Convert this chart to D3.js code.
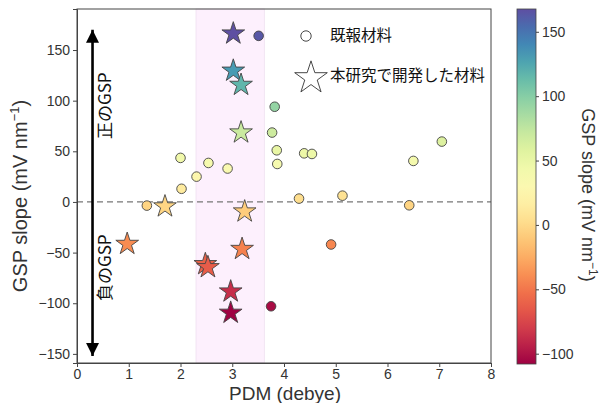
<!DOCTYPE html>
<html>
<head>
<meta charset="utf-8">
<script src="https://cdn.jsdelivr.net/npm/d3@7"></script>
<style>
  body { margin: 0; background: #fff; }
  text { font-family: "Liberation Sans", Arial, sans-serif; fill: #333; }
  .jp { font-family: "Noto Sans CJK JP", sans-serif; fill: #111; }
</style>
</head>
<body>
<svg id="chart" width="602" height="403"></svg>
<script>
// reported materials (circles): [PDM, GSP slope]
const reportedPdm   = [3.51, 3.82, 3.77, 3.86, 3.87, 2.0, 2.54, 2.91, 2.31, 2.02, 1.35, 3.75, 4.39, 4.54, 6.5, 7.05, 4.29, 5.13, 6.42, 4.91];
const reportedSlope = [164, 94, 68.5, 51, 37.5, 43.5, 38.5, 33, 25, 13, -3.6, -103, 48, 47.4, 40.5, 59.6, 3.3, 6.2, -3.3, -42];

// materials developed in this study (stars)
const studyPdm   = [3.02, 3.02, 3.17, 3.17, 1.70, 3.24, 0.97, 3.19, 2.48, 2.53, 2.97, 2.97];
const studySlope = [167.7, 131, 117, 70, -3, -8, -40, -45, -60, -63, -87, -108];

const xTicks = [0, 1, 2, 3, 4, 5, 6, 7, 8];
const yTicks = [-150, -100, -50, 0, 50, 100, 150];
const cbTicks = [-100, -50, 0, 50, 100, 150];
const band = [2.3, 3.62];

const svg = d3.select("#chart");
const margin = { top: 9, left: 77, right: 491, bottom: 363 };

const x = d3.scaleLinear().domain([0, 8]).range([margin.left, margin.right]);
const y = d3.scaleLinear().domain([-159, 190.5]).range([margin.bottom, margin.top]);

const allSlope = reportedSlope.concat(studySlope);
const cmin = d3.min(allSlope), cmax = d3.max(allSlope);
const color = d3.scaleSequential(d3.interpolateSpectral).domain([cmin, cmax]);

// highlight band
svg.append("rect")
    .attr("x", x(band[0])).attr("y", margin.top)
    .attr("width", x(band[1]) - x(band[0]))
    .attr("height", margin.bottom - margin.top)
    .attr("fill", "#fdf0fd")
    .attr("stroke", "#efe0f0").attr("stroke-width", 0.8);

// zero line
svg.append("line")
    .attr("x1", margin.left).attr("x2", margin.right)
    .attr("y1", y(0)).attr("y2", y(0))
    .attr("stroke", "#777").attr("stroke-width", 1.3)
    .attr("stroke-dasharray", "6,4");

// axes
svg.append("g")
    .attr("transform", `translate(0,${margin.bottom})`)
    .call(d3.axisBottom(x).tickValues(xTicks).tickSize(4).tickPadding(2))
    .call(g => g.selectAll("text").attr("font-size", 14).style("fill", "#333"))
    .call(g => g.selectAll("line, path").attr("stroke", "#444"));

svg.append("g")
    .attr("transform", `translate(${margin.left},0)`)
    .call(d3.axisLeft(y).tickValues(yTicks).tickSize(4).tickPadding(3)
        .tickFormat(d => d < 0 ? "\u2212" + Math.abs(d) : d))
    .call(g => g.selectAll("text").attr("font-size", 14).style("fill", "#333"))
    .call(g => g.selectAll("line, path").attr("stroke", "#444"));

svg.append("rect")
    .attr("x", margin.left).attr("y", margin.top)
    .attr("width", margin.right - margin.left).attr("height", margin.bottom - margin.top)
    .attr("fill", "none").attr("stroke", "#444").attr("stroke-width", 1);

// axis labels
svg.append("text")
    .attr("x", 285).attr("y", 400)
    .attr("text-anchor", "middle").attr("font-size", 19)
    .text("PDM (debye)");

const yl = svg.append("text")
    .attr("transform", `translate(27,196) rotate(-90)`)
    .attr("text-anchor", "middle").attr("font-size", 20);
yl.append("tspan").text("GSP slope (mV nm");
yl.append("tspan").attr("font-size", 13).attr("dy", -8).text("\u22121");
yl.append("tspan").attr("dy", 8).text(")");

// double arrow
const defs = svg.append("defs");
defs.append("marker")
    .attr("id", "head").attr("viewBox", "0 0 10 10")
    .attr("refX", 10).attr("refY", 5)
    .attr("markerWidth", 5).attr("markerHeight", 5)
    .attr("markerUnits", "strokeWidth")
    .attr("orient", "auto-start-reverse")
    .append("path").attr("d", "M0,0 L10,5 L0,10 z").attr("fill", "#000");

svg.append("line")
    .attr("x1", x(0.3)).attr("x2", x(0.3))
    .attr("y1", y(-152)).attr("y2", y(170))
    .attr("stroke", "#000").attr("stroke-width", 2.6)
    .attr("marker-start", "url(#head)")
    .attr("marker-end", "url(#head)");

svg.append("text").attr("class", "jp")
    .attr("transform", `translate(${x(0.3) + 18},${y(95)}) rotate(-90)`)
    .attr("text-anchor", "middle").attr("font-size", 17)
    .text("正のGSP");

svg.append("text").attr("class", "jp")
    .attr("transform", `translate(${x(0.3) + 18},${y(-65)}) rotate(-90)`)
    .attr("text-anchor", "middle").attr("font-size", 17)
    .text("負のGSP");

// markers
const reported = reportedPdm.map((d, i) => ({ pdm: d, slope: reportedSlope[i] }));
const study = studyPdm.map((d, i) => ({ pdm: d, slope: studySlope[i] }));

svg.append("g").selectAll("circle")
    .data(reported).enter().append("circle")
    .attr("cx", d => x(d.pdm)).attr("cy", d => y(d.slope))
    .attr("r", 4.8)
    .attr("fill", d => color(d.slope))
    .attr("stroke", "#444").attr("stroke-width", 0.9);

const starPath = d3.symbol().type(d3.symbolStar).size(160);
svg.append("g").selectAll("path")
    .data(study).enter().append("path")
    .attr("d", starPath)
    .attr("transform", d => `translate(${x(d.pdm)},${y(d.slope) + 1.5})`)
    .attr("fill", d => color(d.slope))
    .attr("stroke", "#444").attr("stroke-width", 0.9);

// legend
svg.append("circle")
    .attr("cx", 306).attr("cy", 36).attr("r", 5.2)
    .attr("fill", "none").attr("stroke", "#333").attr("stroke-width", 0.9);
svg.append("text").attr("class", "jp")
    .attr("x", 330).attr("y", 41).attr("font-size", 15.5)
    .text("既報材料");
svg.append("path")
    .attr("d", d3.symbol().type(d3.symbolStar).size(330))
    .attr("transform", "translate(311,78)")
    .attr("fill", "none").attr("stroke", "#333").attr("stroke-width", 0.9);
svg.append("text").attr("class", "jp")
    .attr("x", 330).attr("y", 81).attr("font-size", 15.5)
    .text("本研究で開発した材料");

// colorbar
const cb = { x: 517, w: 19, top: 9, bottom: 364 };
const cy = d3.scaleLinear().domain([cmin, cmax]).range([cb.bottom, cb.top]);
const grad = defs.append("linearGradient")
    .attr("id", "cbgrad").attr("x1", 0).attr("x2", 0).attr("y1", 1).attr("y2", 0);
d3.range(0, 1.0001, 0.05).forEach(t => {
    grad.append("stop").attr("offset", t).attr("stop-color", d3.interpolateSpectral(t));
});
svg.append("rect")
    .attr("x", cb.x).attr("y", cb.top)
    .attr("width", cb.w).attr("height", cb.bottom - cb.top)
    .attr("fill", "url(#cbgrad)")
    .attr("stroke", "#444").attr("stroke-width", 0.8);

svg.append("g")
    .attr("transform", `translate(${cb.x + cb.w},0)`)
    .call(d3.axisRight(cy).tickValues(cbTicks).tickSize(3).tickPadding(3)
        .tickFormat(d => d < 0 ? "\u2212" + Math.abs(d) : d))
    .call(g => g.select(".domain").remove())
    .call(g => g.selectAll("text").attr("font-size", 14).style("fill", "#333"))
    .call(g => g.selectAll("line").attr("stroke", "#444"));

const cl = svg.append("text")
    .attr("transform", `translate(582,195) rotate(90)`)
    .attr("text-anchor", "middle").attr("font-size", 18);
cl.append("tspan").text("GSP slope (mV nm");
cl.append("tspan").attr("font-size", 12).attr("dy", -7).text("\u22121");
cl.append("tspan").attr("dy", 7).text(")");
</script>
</body>
</html>
